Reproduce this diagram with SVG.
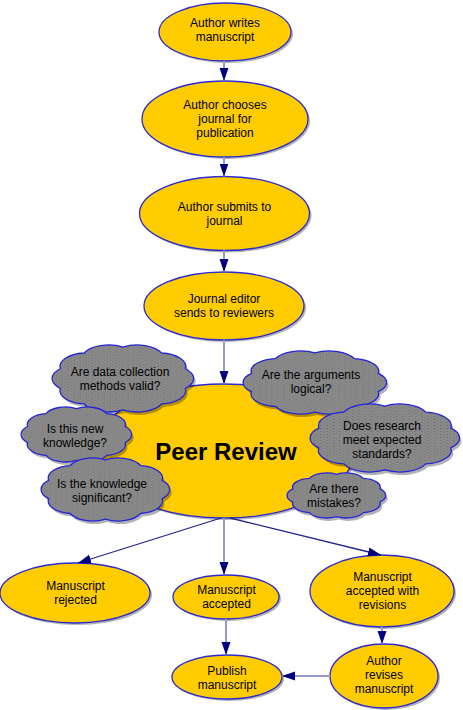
<svg xmlns="http://www.w3.org/2000/svg" width="463" height="710" viewBox="0 0 463 710">
<defs>
<style>
.node{fill:#FFCC00;stroke:#2a2ad0;stroke-width:1.3}
.sh{fill:#000;opacity:0.3}
.cloud{fill:url(#dots)}
.csh{fill:#000;opacity:0.3}
.t{font-family:"Liberation Sans",Arial,sans-serif;font-size:12px;fill:#000;text-anchor:middle}
.big{font-family:"Liberation Sans",Arial,sans-serif;font-size:24px;font-weight:bold;fill:#000;text-anchor:middle}
.lt{stroke:#9999cc;stroke-width:2;fill:none}
.dk{stroke:#23238c;stroke-width:1.3;fill:none}
</style>
<pattern id="dots" width="4" height="4" patternUnits="userSpaceOnUse">
<rect width="4" height="4" fill="#8a8a8a"/>
<rect x="1" y="1" width="1" height="1" fill="#6a6a6a"/>
<rect x="3" y="3" width="1" height="1" fill="#767676"/>
</pattern>
<path id="cloudShape" vector-effect="non-scaling-stroke" stroke="#2424d8" stroke-width="1.3" d="M91.8,63 A18,18 0 0 1 75.9,84 A18,18 0 0 1 50,92 A18,18 0 0 1 24.1,84 A18,18 0 0 1 8.2,63 A18,18 0 0 1 8.2,37 A18,18 0 0 1 24.1,16 A18,18 0 0 1 50,8 A18,18 0 0 1 75.9,16 A18,18 0 0 1 91.8,37 A18,18 0 0 1 91.8,63 Z"/>
<path id="cloudSh" d="M91.8,63 A18,18 0 0 1 75.9,84 A18,18 0 0 1 50,92 A18,18 0 0 1 24.1,84 A18,18 0 0 1 8.2,63 A18,18 0 0 1 8.2,37 A18,18 0 0 1 24.1,16 A18,18 0 0 1 50,8 A18,18 0 0 1 75.9,16 A18,18 0 0 1 91.8,37 A18,18 0 0 1 91.8,63 Z"/>
<marker id="arr" markerUnits="userSpaceOnUse" markerWidth="13" markerHeight="10" viewBox="0 0 13 10" refX="13" refY="5" orient="auto">
<path d="M0,0.5 L13,5 L0,9.5 Z" fill="#000080"/>
</marker>
</defs>
<rect width="463" height="710" fill="#fff"/>

<g id="n1"><ellipse class="sh" cx="227" cy="34" rx="66" ry="29"/><ellipse class="node" cx="225" cy="32" rx="66" ry="29"/><text class="t" x="225" y="27">Author writes</text><text class="t" x="225" y="41">manuscript</text></g>
<g id="n2"><ellipse class="sh" cx="227" cy="121" rx="83" ry="38"/><ellipse class="node" cx="225" cy="119" rx="83" ry="38"/><text class="t" x="225" y="109">Author chooses</text><text class="t" x="225" y="123">journal for</text><text class="t" x="225" y="137">publication</text></g>
<g id="n3"><ellipse class="sh" cx="226.5" cy="215.5" rx="85" ry="37"/><ellipse class="node" cx="224.5" cy="213.5" rx="85" ry="37"/><text class="t" x="224.5" y="211">Author submits to</text><text class="t" x="224.5" y="225">journal</text></g>
<g id="n4"><ellipse class="sh" cx="226" cy="308" rx="80" ry="34"/><ellipse class="node" cx="224" cy="306" rx="80" ry="34"/><text class="t" x="224" y="303">Journal editor</text><text class="t" x="224" y="317">sends to reviewers</text></g>

<g id="peer"><ellipse class="sh" cx="226" cy="453" rx="130" ry="67"/><ellipse class="node" cx="224" cy="451" rx="130" ry="67"/><text class="big" x="226" y="460">Peer Review</text></g>

<g id="q1"><use href="#cloudSh" class="csh" transform="translate(2,3) translate(48.11,341.03) scale(1.495,0.749)"/><use href="#cloudShape" class="cloud" transform="translate(48.11,341.03) scale(1.495,0.749)"/><text class="t" x="120" y="376">Are data collection</text><text class="t" x="120" y="390">methods valid?</text></g>
<g id="q2"><use href="#cloudSh" class="csh" transform="translate(2,3) translate(239.06,347.26) scale(1.516,0.705)"/><use href="#cloudShape" class="cloud" transform="translate(239.06,347.26) scale(1.516,0.705)"/><text class="t" x="311" y="379">Are the arguments</text><text class="t" x="311" y="393">logical?</text></g>
<g id="q3"><use href="#cloudSh" class="csh" transform="translate(2,3) translate(17.96,403.74) scale(1.168,0.615)"/><use href="#cloudShape" class="cloud" transform="translate(17.96,403.74) scale(1.168,0.615)"/><text class="t" x="75" y="433">Is this new</text><text class="t" x="75" y="447">knowledge?</text></g>
<g id="q4"><use href="#cloudSh" class="csh" transform="translate(2,3) translate(305.89,399.97) scale(1.579,0.761)"/><use href="#cloudShape" class="cloud" transform="translate(305.89,399.97) scale(1.579,0.761)"/><text class="t" x="382" y="430">Does research</text><text class="t" x="382" y="444">meet expected</text><text class="t" x="382" y="458">standards?</text></g>
<g id="q5"><use href="#cloudSh" class="csh" transform="translate(2,3) translate(37.47,454.26) scale(1.358,0.705)"/><use href="#cloudShape" class="cloud" transform="translate(37.47,454.26) scale(1.358,0.705)"/><text class="t" x="102" y="488">Is the knowledge</text><text class="t" x="102" y="502">significant?</text></g>
<g id="q6"><use href="#cloudSh" class="csh" transform="translate(2,3) translate(284.29,470.33) scale(1.042,0.503)"/><use href="#cloudShape" class="cloud" transform="translate(284.29,470.33) scale(1.042,0.503)"/><text class="t" x="334" y="493">Are there</text><text class="t" x="334" y="507">mistakes?</text></g>

<g id="n5"><ellipse class="sh" cx="77" cy="595" rx="75" ry="30"/><ellipse class="node" cx="75" cy="593" rx="75" ry="30"/><text class="t" x="75.5" y="590">Manuscript</text><text class="t" x="75.5" y="604">rejected</text></g>
<g id="n6"><ellipse class="sh" cx="228" cy="599" rx="53" ry="22"/><ellipse class="node" cx="226" cy="597" rx="53" ry="22"/><text class="t" x="226.5" y="594">Manuscript</text><text class="t" x="226.5" y="608">accepted</text></g>
<g id="n7"><ellipse class="sh" cx="384" cy="593" rx="72" ry="36"/><ellipse class="node" cx="382" cy="591" rx="72" ry="36"/><text class="t" x="382.5" y="581">Manuscript</text><text class="t" x="382.5" y="595">accepted with</text><text class="t" x="382.5" y="609">revisions</text></g>
<g id="n8"><ellipse class="sh" cx="229" cy="679" rx="55" ry="22"/><ellipse class="node" cx="227" cy="677" rx="55" ry="22"/><text class="t" x="227" y="675">Publish</text><text class="t" x="227" y="689">manuscript</text></g>
<g id="n9"><ellipse class="sh" cx="386" cy="678" rx="54" ry="32"/><ellipse class="node" cx="384" cy="676" rx="54" ry="32"/><text class="t" x="384" y="665">Author</text><text class="t" x="384" y="679">revises</text><text class="t" x="384" y="693">manuscript</text></g>

<g id="connectors">
<line class="lt" x1="224" y1="61" x2="224" y2="81" marker-end="url(#arr)"/>
<line class="lt" x1="224" y1="157" x2="224" y2="176.5" marker-end="url(#arr)"/>
<line class="lt" x1="224" y1="250.5" x2="224" y2="272" marker-end="url(#arr)"/>
<line class="lt" x1="224" y1="340" x2="224" y2="384" marker-end="url(#arr)"/>
<line class="dk" x1="221" y1="518" x2="78" y2="563" marker-end="url(#arr)"/>
<line class="lt" x1="224" y1="518" x2="224" y2="575" marker-end="url(#arr)"/>
<line class="dk" x1="230" y1="518" x2="381" y2="555" marker-end="url(#arr)"/>
<line class="lt" x1="226" y1="619" x2="226" y2="655" marker-end="url(#arr)"/>
<line class="lt" x1="382" y1="627" x2="382" y2="644" marker-end="url(#arr)"/>
<line class="lt" x1="330" y1="676" x2="282" y2="676" marker-end="url(#arr)"/>
</g>
</svg>
